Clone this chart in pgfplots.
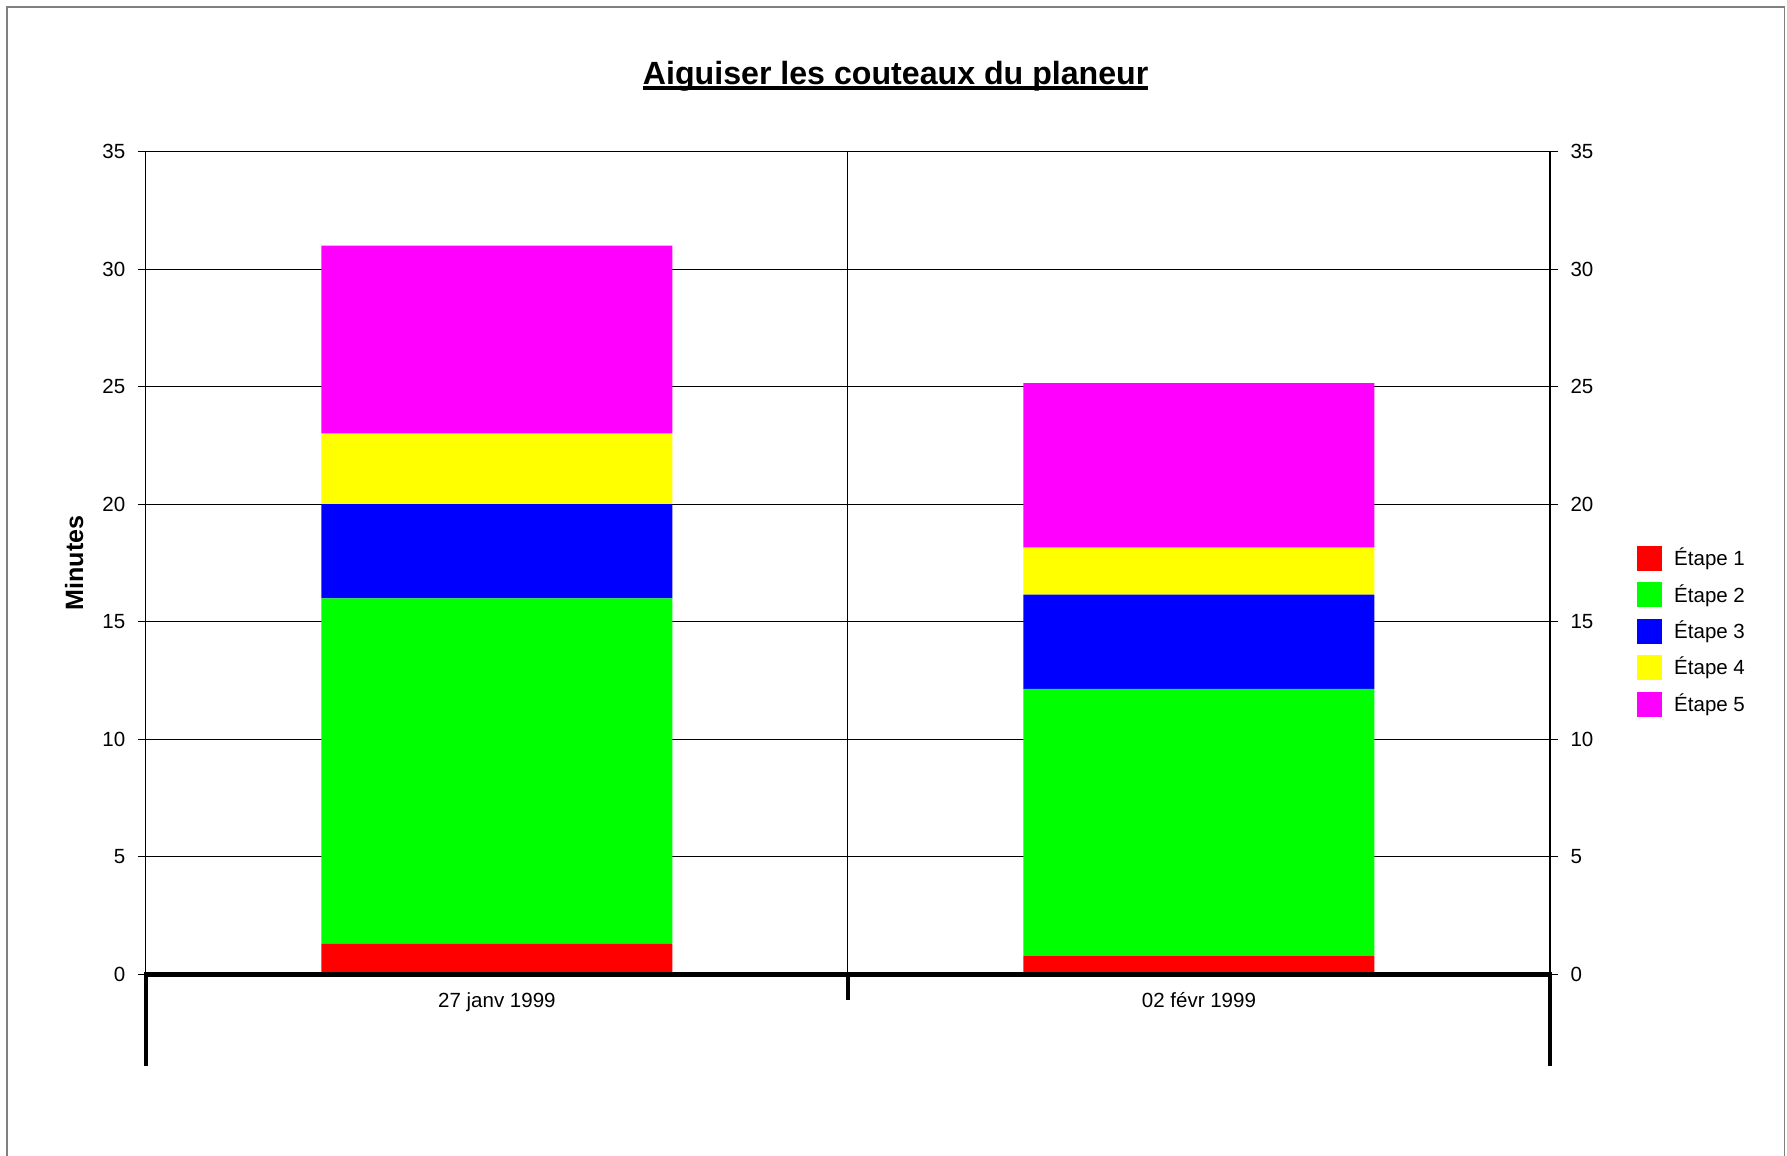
\documentclass[border=0pt]{standalone}
\usepackage{pgfplots}
\pgfplotsset{compat=1.18}
\usepackage{fontspec}
\setmainfont{Liberation Sans}

% underline sitting just under the baseline, as in the spreadsheet title
\newlength\ulw
\newcommand\ul[1]{\settowidth\ulw{#1}\rlap{\rule[-2.3pt]{\ulw}{1.4pt}}#1}

\begin{document}
\begin{tikzpicture}[font=\fontsize{9}{11}\selectfont]
% frame and page size
\path[use as bounding box] (-64pt,-79.5pt) rectangle (720pt,427.5pt);
\draw[gray, line width=0.6pt] (-61pt,-80pt) -- (-61pt,424.5pt) -- (719pt,424.5pt) -- (719pt,-80pt);

\begin{axis}[
  name=main,
  at={(0,0)}, anchor=south west,
  scale only axis, width=616pt, height=361pt,
  ybar stacked, bar width=0.5,
  xmin=-0.5, xmax=1.5, ymin=0, ymax=35,
  xtick={0,1}, xticklabels={27 janv 1999, 02 févr 1999},
  xtick style={draw=none},
  xticklabel style={yshift=-1pt},
  extra x ticks={0.5}, extra x tick labels={},
  extra x tick style={grid=major, tick style={draw=none}},
  ytick={0,5,...,35}, ytick pos=left,
  tick align=outside, major tick length=3.5pt,
  tick style={black, line width=0.5pt},
  ymajorgrids, grid style={black, line width=0.5pt},
  axis line style={black, line width=0.5pt},
  yticklabel style={xshift=-2pt},
  /pgf/number format/assume math mode=true,
  title={\ul{Aiguiser les couteaux du planeur}},
  title style={font=\fontsize{14.1}{17}\selectfont\bfseries,
    at={(axis description cs:0.534,1.0831)}, anchor=base, yshift=-6.5pt},
  ylabel={Minutes},
  ylabel style={font=\fontsize{11}{13}\selectfont\bfseries,
    at={(axis description cs:-0.0511,0.5)}, anchor=center},
  legend style={at={(1.0617,0.417)}, anchor=west, draw=none,
    inner sep=0pt, outer sep=0pt, row sep=5pt,
    nodes={inner sep=0pt, anchor=west},
    /tikz/every odd column/.append style={column sep=5.5pt}},
  legend image code/.code={\fill[#1] (0pt,-5.5pt) rectangle (11pt,5.5pt);},
]
\addplot[fill={rgb,255:red,255;green,0;blue,0}, draw=none] coordinates {(0,1.3) (1,0.8)};
\addplot[fill={rgb,255:red,0;green,255;blue,0}, draw=none] coordinates {(0,14.7) (1,11.35)};
\addplot[fill={rgb,255:red,0;green,0;blue,255}, draw=none] coordinates {(0,4) (1,4)};
\addplot[fill={rgb,255:red,255;green,255;blue,0}, draw=none] coordinates {(0,3) (1,2)};
\addplot[fill={rgb,255:red,255;green,0;blue,255}, draw=none] coordinates {(0,8) (1,7)};
\legend{Étape 1, Étape 2, Étape 3, Étape 4, Étape 5}
\end{axis}

% right-hand scale
\begin{axis}[
  at={(0,0)}, anchor=south west,
  scale only axis, width=616pt, height=361pt,
  xmin=-0.5, xmax=1.5, ymin=0, ymax=35,
  hide x axis, axis y line*=right,
  ytick={0,5,...,35},
  tick align=outside, major tick length=3.5pt,
  tick style={black, line width=0.5pt},
  axis line style={black, line width=0.5pt},
  yticklabel style={xshift=2pt},
  /pgf/number format/assume math mode=true,
]
\addplot[draw=none] coordinates {(0,0)};
\end{axis}

% heavy category axis
\draw[line width=2pt, line cap=rect] (main.south west) -- (main.south east);
\draw[line width=2pt] (main.south west) -- ++(0,-40pt);
\draw[line width=2pt] (main.south east) -- ++(0,-40pt);
\draw[line width=2pt] (main.south) -- ++(0,-11pt);
\end{tikzpicture}
\end{document}
